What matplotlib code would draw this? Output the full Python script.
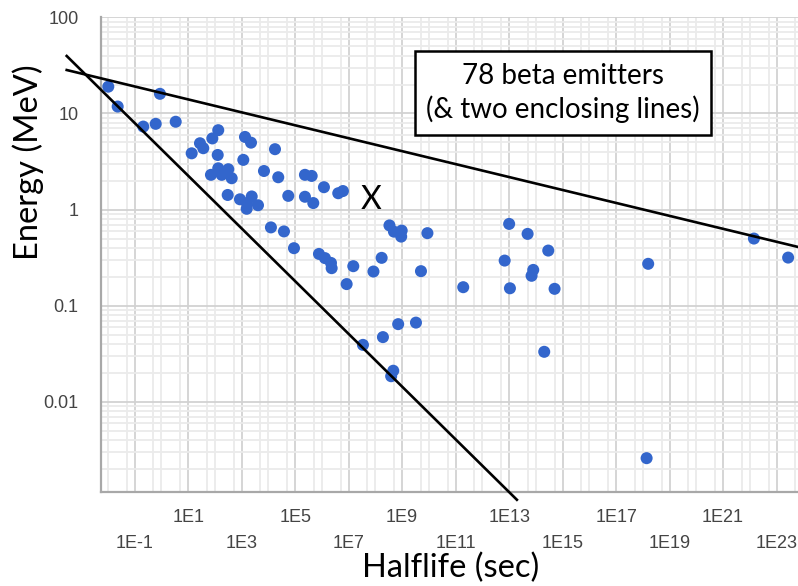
import numpy as np
import matplotlib
matplotlib.use("Agg")
import matplotlib.pyplot as plt

# halflife (s) and beta energy (MeV)
halflife_sec = [0.0103, 0.88, 0.0231, 0.209, 0.61, 3.41, 133, 80, 27.6, 36.7,
                13.5, 127, 1330, 2230, 1150, 17600, 133, 316, 71, 179,
                423, 6820, 23300, 2.32e5, 4.14e5, 1.19e6, 4.08e6, 6.1e6, 300, 863,
                2370, 1580, 1540, 4070, 5.52e4, 2.32e5, 4.75e5, 1.24e4, 3.81e4, 9.02e4,
                7.76e5, 1.30e6, 2.18e6, 2.31e6, 1.49e7, 8.4e6, 8.45e7, 1.71e8, 5.05e9, 3.35e8,
                4.93e8, 9.6e8, 9.2e8, 8.8e9, 1.92e11, 1.0e13, 4.9e13, 2.9e14, 6.8e12, 7.96e13,
                6.9e13, 1.07e13, 5.0e14, 7.1e8, 3.28e9, 1.91e8, 3.42e7, 4.65e8, 3.88e8, 2.05e14,
                1.58e18, 1.42e22, 2.7e23, 1.38e18]
energy_mev = [19.0, 16.0, 11.8, 7.3, 7.8, 8.2, 6.7, 5.5, 4.9, 4.35,
              3.85, 3.7, 5.7, 4.97, 3.29, 4.25, 2.69, 2.63, 2.3, 2.3,
              2.12, 2.52, 2.17, 2.3, 2.24, 1.71, 1.48, 1.56, 1.42, 1.28,
              1.37, 1.17, 1.02, 1.11, 1.39, 1.36, 1.17, 0.653, 0.593, 0.397,
              0.346, 0.313, 0.279, 0.246, 0.258, 0.168, 0.227, 0.315, 0.229, 0.685,
              0.59, 0.605, 0.524, 0.569, 0.156, 0.71, 0.559, 0.375, 0.295, 0.236,
              0.205, 0.152, 0.150, 0.0644, 0.0668, 0.0472, 0.0392, 0.0211, 0.0185, 0.0332,
              0.273, 0.50, 0.317, 0.0026]

# the two enclosing lines (end points)
upper_x = [2.87e-4, 6.3e23]
upper_y = [28.3, 0.409]
lower_x = [2.87e-4, 1.95e13]
lower_y = [39.6, 0.00096]

marked_x, marked_y = 6.8e7, 1.26   # the "X"

x_tick_exps = list(range(-1, 24, 2))

fig = plt.figure(figsize=(7.98, 5.86), dpi=100)
W, H = 798, 586
ax = fig.add_axes([100.7 / W, (H - 492.3) / H, (W - 100.7) / W, (492.3 - 17.3) / H])
ax.set_xscale("log")
ax.set_yscale("log")

# grid
ax.set_xticks([10.0 ** k for k in x_tick_exps])
xminor = []
for k in range(-3, 24):
    xminor.append(5 * 10.0 ** k)
    if k % 2 == 0:
        xminor.append(10.0 ** k)
ax.set_xticks(xminor, minor=True)
ax.set_xticklabels([])
ax.set_xticklabels([], minor=True)
ax.yaxis.set_major_locator(matplotlib.ticker.LogLocator(base=10, numticks=20))
ax.yaxis.set_minor_locator(matplotlib.ticker.LogLocator(base=10, subs=np.arange(2, 10), numticks=20))
ax.yaxis.set_minor_formatter(matplotlib.ticker.NullFormatter())
ax.yaxis.set_major_formatter(matplotlib.ticker.FuncFormatter(lambda v, p: f"{v:g}"))
ax.set_xlim(10 ** -2.271, 10 ** 23.80)
ax.set_ylim(10 ** -2.94, 100)
ax.grid(which="major", color="#d2d2d2", lw=1.3, zorder=0)
ax.grid(which="minor", color="#ebebeb", lw=1.3, zorder=0)
ax.set_axisbelow(True)
ax.tick_params(which="both", length=0)
ax.tick_params(axis="y", pad=16, labelsize=13, labelcolor="#444444")
for lab in ax.get_yticklabels():
    lab.set_fontfamily("Liberation Sans")
for s in ["top", "right"]:
    ax.spines[s].set_visible(False)
for s in ["left", "bottom"]:
    ax.spines[s].set_color("#a8a8a8")
    ax.spines[s].set_linewidth(1.6)

# staggered x tick labels
for i, e in enumerate(x_tick_exps):
    off = -18 if (e - 1) % 4 == 0 else -37
    ax.annotate(f"1E{e}", xy=(10.0 ** e, 0), xycoords=("data", "axes fraction"),
                xytext=(0, off), textcoords="offset points", ha="center", va="center",
                fontsize=13, color="#444444", family="Liberation Sans", annotation_clip=False)

ax.scatter(halflife_sec, energy_mev, s=75, color="#3366cc", edgecolors="none", zorder=3)
ax.plot(upper_x, upper_y, color="black", lw=1.9, clip_on=False, zorder=4)
ax.plot(lower_x, lower_y, color="black", lw=1.9, clip_on=False, zorder=4)

ax.text(marked_x, marked_y, "X", fontsize=23, family="Lato", ha="center", va="center", zorder=5)

ax.text(0.663, 0.8406, "78 beta emitters\n(& two enclosing lines)", transform=ax.transAxes,
        fontsize=20, family="Lato", ha="center", va="center", linespacing=1.3, zorder=6,
        bbox=dict(boxstyle="square,pad=0.42", fc="white", ec="black", lw=1.8))

ax.set_ylabel("Energy (MeV)", fontsize=23.5, family="Lato", va="center")
ax.yaxis.set_label_coords(-0.104, 0.695)
ax.set_xlabel("Halflife (sec)", fontsize=23.5, family="Lato", va="center")
ax.xaxis.set_label_coords(0.502, -0.159)

fig.savefig("out.png", dpi=100)
